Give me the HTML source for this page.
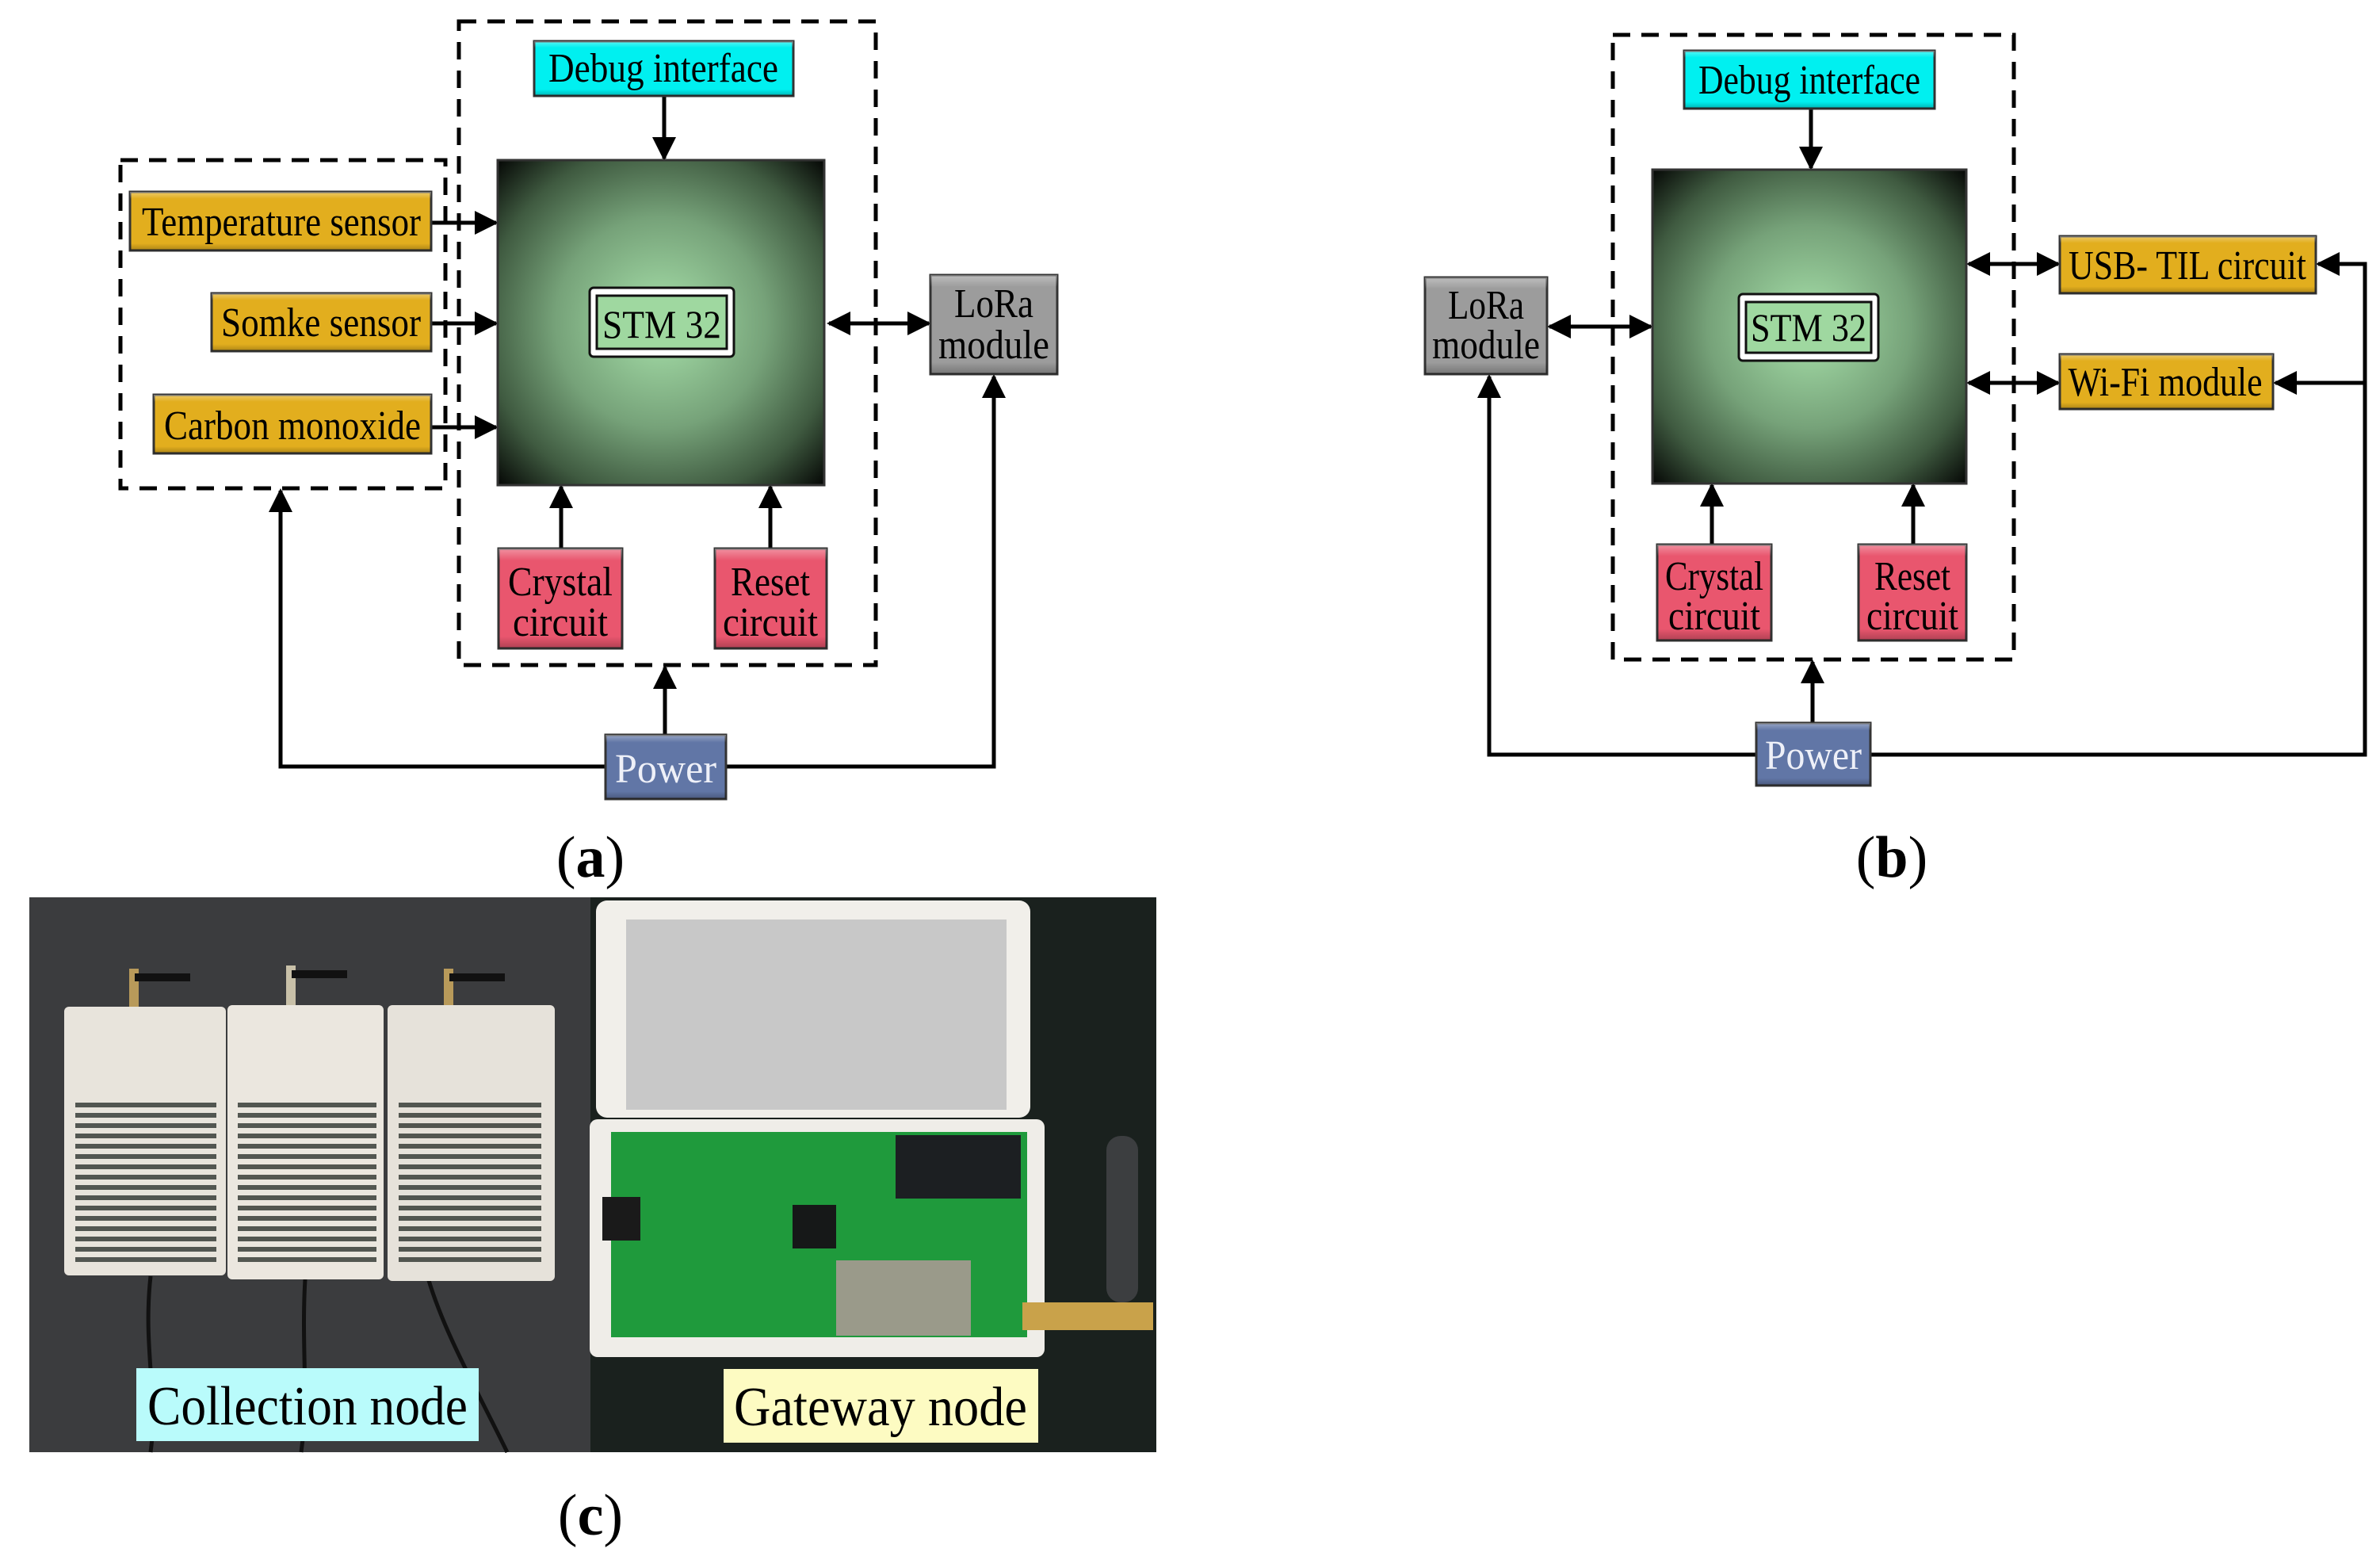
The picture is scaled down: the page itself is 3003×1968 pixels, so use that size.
<!DOCTYPE html>
<html><head><meta charset="utf-8"><style>
html,body{margin:0;padding:0;background:#fff;}
svg{display:block;}
text{font-family:"Liberation Serif",serif;}
</style></head><body>
<svg width="3003" height="1968" viewBox="0 0 3003 1968" xmlns="http://www.w3.org/2000/svg">
<defs>
<radialGradient id="stm" cx="50%" cy="50%" r="72%">
<stop offset="0" stop-color="#a8e2ab"/>
<stop offset="0.45" stop-color="#76a279"/>
<stop offset="0.75" stop-color="#3f5a40"/>
<stop offset="1" stop-color="#000"/>
</radialGradient>
<marker id="ah" viewBox="0 0 10 10" refX="9" refY="5" markerWidth="6" markerHeight="6" markerUnits="strokeWidth" orient="auto-start-reverse">
<path d="M0,0 L10,5 L0,10 z" fill="#000"/>
</marker>
<linearGradient id="bev" x1="0" y1="0" x2="0" y2="1">
<stop offset="0" stop-color="#fff" stop-opacity="0.35"/>
<stop offset="0.12" stop-color="#fff" stop-opacity="0"/>
<stop offset="0.88" stop-color="#000" stop-opacity="0"/>
<stop offset="1" stop-color="#000" stop-opacity="0.25"/>
</linearGradient>
<pattern id="grille" width="8" height="13" patternUnits="userSpaceOnUse">
<rect width="8" height="6" fill="#2d332e"/>
</pattern>
</defs>

<g stroke="#000" stroke-width="5" fill="none" stroke-dasharray="22 14">
<rect x="152" y="202" width="410" height="414"/>
<rect x="579" y="27" width="526" height="812"/>
<rect x="2035" y="44" width="506" height="788"/>
</g>

<g stroke="#000" stroke-width="5" fill="none">
<line x1="838" y1="121" x2="838" y2="200" marker-end="url(#ah)"/>
<line x1="544" y1="281" x2="626" y2="281" marker-end="url(#ah)"/>
<line x1="544" y1="408" x2="626" y2="408" marker-end="url(#ah)"/>
<line x1="544" y1="539" x2="626" y2="539" marker-end="url(#ah)"/>
<line x1="708" y1="692" x2="708" y2="614" marker-end="url(#ah)"/>
<line x1="972" y1="692" x2="972" y2="614" marker-end="url(#ah)"/>
<line x1="1046" y1="408" x2="1172" y2="408" marker-start="url(#ah)" marker-end="url(#ah)"/>
<line x1="839" y1="927" x2="839" y2="842" marker-end="url(#ah)"/>
<polyline points="764,967 354,967 354,619" marker-end="url(#ah)"/>
<polyline points="916,967 1254,967 1254,475" marker-end="url(#ah)"/>
<line x1="2285" y1="137" x2="2285" y2="212" marker-end="url(#ah)"/>
<line x1="1955" y1="412" x2="2083" y2="412" marker-start="url(#ah)" marker-end="url(#ah)"/>
<line x1="2484" y1="333" x2="2597" y2="333" marker-start="url(#ah)" marker-end="url(#ah)"/>
<line x1="2484" y1="483" x2="2597" y2="483" marker-start="url(#ah)" marker-end="url(#ah)"/>
<line x1="2160" y1="687" x2="2160" y2="612" marker-end="url(#ah)"/>
<line x1="2414" y1="687" x2="2414" y2="612" marker-end="url(#ah)"/>
<line x1="2287" y1="912" x2="2287" y2="835" marker-end="url(#ah)"/>
<polyline points="2216,952 1879,952 1879,475" marker-end="url(#ah)"/>
<polyline points="2360,952 2984,952 2984,333 2925,333" marker-end="url(#ah)"/>
<polyline points="2984,483 2871,483" marker-end="url(#ah)"/>
</g>

<g stroke="#333" stroke-width="3">
<rect x="628" y="202" width="412" height="410" fill="url(#stm)"/>
<rect x="674" y="52" width="327" height="69" fill="#00f0f0"/>
<rect x="164" y="242" width="380" height="74" fill="#e2ae1e"/>
<rect x="267" y="370" width="277" height="73" fill="#e2ae1e"/>
<rect x="194" y="498" width="350" height="74" fill="#e2ae1e"/>
<rect x="629" y="692" width="156" height="126" fill="#e9566e"/>
<rect x="902" y="692" width="141" height="126" fill="#e9566e"/>
<rect x="1174" y="347" width="160" height="125" fill="#9c9c9c"/>
<rect x="764" y="927" width="152" height="81" fill="#6176a6"/>
<rect x="2085" y="214" width="396" height="396" fill="url(#stm)"/>
<rect x="2125" y="64" width="316" height="73" fill="#00f0f0"/>
<rect x="2599" y="298" width="323" height="72" fill="#e2ae1e"/>
<rect x="2599" y="447" width="269" height="69" fill="#e2ae1e"/>
<rect x="1798" y="350" width="154" height="122" fill="#9c9c9c"/>
<rect x="2091" y="687" width="144" height="121" fill="#e9566e"/>
<rect x="2345" y="687" width="136" height="121" fill="#e9566e"/>
<rect x="2216" y="912" width="144" height="79" fill="#6176a6"/>
</g>
<g fill="url(#bev)" stroke="none">
<rect x="674" y="52" width="327" height="69"/><rect x="164" y="242" width="380" height="74"/>
<rect x="267" y="370" width="277" height="73"/><rect x="194" y="498" width="350" height="74"/>
<rect x="629" y="692" width="156" height="126"/><rect x="902" y="692" width="141" height="126"/>
<rect x="1174" y="347" width="160" height="125"/><rect x="764" y="927" width="152" height="81"/>
<rect x="2125" y="64" width="316" height="73"/><rect x="2599" y="298" width="323" height="72"/>
<rect x="2599" y="447" width="269" height="69"/><rect x="1798" y="350" width="154" height="122"/>
<rect x="2091" y="687" width="144" height="121"/><rect x="2345" y="687" width="136" height="121"/>
<rect x="2216" y="912" width="144" height="79"/>
</g>
<rect x="744" y="363" width="182" height="87" rx="5" fill="#fff" stroke="#111" stroke-width="3"/>
<rect x="753" y="373" width="164" height="67" fill="#9fd8a0" stroke="#111" stroke-width="3"/>
<rect x="2194" y="371" width="176" height="84" rx="5" fill="#fff" stroke="#111" stroke-width="3"/>
<rect x="2203" y="381" width="158" height="64" fill="#9fd8a0" stroke="#111" stroke-width="3"/>

<g font-size="52" fill="#000" text-anchor="middle">
<text x="835" y="426" font-size="50" textLength="150" lengthAdjust="spacingAndGlyphs">STM 32</text>
<text x="2282" y="430" font-size="50" textLength="146" lengthAdjust="spacingAndGlyphs">STM 32</text>
<text x="837" y="103" textLength="290" lengthAdjust="spacingAndGlyphs">Debug  interface</text>
<text x="2283" y="118" textLength="280" lengthAdjust="spacingAndGlyphs">Debug  interface</text>
<text x="355" y="297" textLength="352" lengthAdjust="spacingAndGlyphs">Temperature sensor</text>
<text x="405" y="424" textLength="252" lengthAdjust="spacingAndGlyphs">Somke sensor</text>
<text x="369" y="554" textLength="324" lengthAdjust="spacingAndGlyphs">Carbon monoxide</text>
<text x="707" y="751" textLength="132" lengthAdjust="spacingAndGlyphs">Crystal</text>
<text x="707" y="802" textLength="120" lengthAdjust="spacingAndGlyphs">circuit</text>
<text x="972" y="751" textLength="100" lengthAdjust="spacingAndGlyphs">Reset</text>
<text x="972" y="802" textLength="120" lengthAdjust="spacingAndGlyphs">circuit</text>
<text x="1254" y="400" textLength="100" lengthAdjust="spacingAndGlyphs">LoRa</text>
<text x="1254" y="452" textLength="140" lengthAdjust="spacingAndGlyphs">module</text>
<text x="840" y="987" fill="#eef0f8" textLength="128" lengthAdjust="spacingAndGlyphs">Power</text>
<text x="2760" y="352" textLength="300" lengthAdjust="spacingAndGlyphs">USB- TIL circuit</text>
<text x="2732" y="499" textLength="245" lengthAdjust="spacingAndGlyphs">Wi-Fi module</text>
<text x="1875" y="402" textLength="96" lengthAdjust="spacingAndGlyphs">LoRa</text>
<text x="1875" y="452" textLength="136" lengthAdjust="spacingAndGlyphs">module</text>
<text x="2163" y="744" textLength="124" lengthAdjust="spacingAndGlyphs">Crystal</text>
<text x="2163" y="794" textLength="116" lengthAdjust="spacingAndGlyphs">circuit</text>
<text x="2413" y="744" textLength="96" lengthAdjust="spacingAndGlyphs">Reset</text>
<text x="2413" y="794" textLength="116" lengthAdjust="spacingAndGlyphs">circuit</text>
<text x="2288" y="970" fill="#eef0f8" textLength="122" lengthAdjust="spacingAndGlyphs">Power</text>
</g>

<g font-size="74" fill="#000" text-anchor="middle">
<text x="745" y="1106">(<tspan font-weight="bold">a</tspan>)</text>
<text x="2387" y="1106">(<tspan font-weight="bold">b</tspan>)</text>
<text x="745" y="1936">(<tspan font-weight="bold">c</tspan>)</text>
</g>

<rect x="37" y="1132" width="708" height="700" fill="#3b3c3e"/>
<rect x="745" y="1132" width="714" height="700" fill="#1a211e"/>
<g stroke="#111" stroke-width="5" fill="none">
<path d="M190,1610 C180,1700 200,1760 190,1832"/>
<path d="M385,1614 C380,1700 390,1760 380,1832"/>
<path d="M540,1612 C560,1680 600,1750 640,1832"/>
</g>
<g>
<rect x="163" y="1222" width="12" height="50" fill="#b89a5a"/><rect x="170" y="1228" width="70" height="10" fill="#111"/>
<rect x="361" y="1218" width="12" height="52" fill="#c8c0a8"/><rect x="368" y="1224" width="70" height="10" fill="#111"/>
<rect x="560" y="1222" width="12" height="48" fill="#b89a5a"/><rect x="567" y="1228" width="70" height="10" fill="#111"/>
</g>
<rect x="81" y="1270" width="204" height="339" rx="6" fill="#e8e4dc"/>
<rect x="287" y="1268" width="197" height="346" rx="6" fill="#ebe7df"/>
<rect x="489" y="1268" width="211" height="348" rx="6" fill="#e6e2da"/>
<rect x="95" y="1390" width="178" height="205" fill="url(#grille)" opacity="0.8"/>
<rect x="300" y="1387" width="175" height="208" fill="url(#grille)" opacity="0.8"/>
<rect x="503" y="1387" width="180" height="208" fill="url(#grille)" opacity="0.8"/>
<rect x="752" y="1136" width="548" height="274" rx="14" fill="#f1efea"/>
<rect x="790" y="1160" width="480" height="240" fill="#c8c8c8"/>
<rect x="744" y="1412" width="574" height="300" rx="10" fill="#efede8"/>
<rect x="771" y="1428" width="525" height="259" fill="#1f9a3c"/>
<rect x="1130" y="1432" width="158" height="80" fill="#1c1f22"/>
<rect x="1055" y="1590" width="170" height="95" fill="#9a9a8a"/>
<rect x="1000" y="1520" width="55" height="55" fill="#161818"/>
<rect x="760" y="1510" width="48" height="55" fill="#1a1a1a"/>
<rect x="1290" y="1643" width="165" height="35" fill="#c9a24a"/>
<rect x="1396" y="1433" width="40" height="210" rx="18" fill="#3c3e40"/>
<rect x="172" y="1726" width="432" height="92" fill="#b9fbfb"/>
<rect x="913" y="1727" width="397" height="93" fill="#fdfbc2"/>
<g font-size="70" fill="#000" text-anchor="middle">
<text x="388" y="1797" textLength="404" lengthAdjust="spacingAndGlyphs">Collection node</text>
<text x="1111" y="1798" textLength="370" lengthAdjust="spacingAndGlyphs">Gateway node</text>
</g>
</svg>
</body></html>
